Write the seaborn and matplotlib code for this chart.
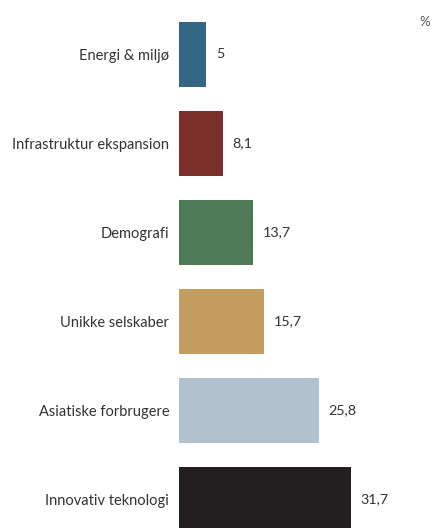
import matplotlib
matplotlib.use("Agg")
import matplotlib.pyplot as plt
import seaborn as sns
import pandas as pd

categories = ["Energi & miljø", "Infrastruktur ekspansion", "Demografi",
              "Unikke selskaber", "Asiatiske forbrugere", "Innovativ teknologi"]
values = [5.0, 8.1, 13.7, 15.7, 25.8, 31.7]
colors = ["#336682", "#7a2f2b", "#4e7a56", "#c39c60", "#b2c1ce", "#231f20"]

sns.set_theme(style="white")
plt.rcParams["font.family"] = ["Lato", "DejaVu Sans"]

df = pd.DataFrame({"kategori": categories, "andel": values})

fig = plt.figure(figsize=(4.36, 5.28), dpi=100)
ax = fig.add_axes([179 / 436, 0, 257 / 436, 1])

sns.barplot(data=df, y="kategori", x="andel", hue="kategori",
            palette=colors, orient="h", width=0.73, legend=False,
            saturation=1, linewidth=0, ax=ax)

ax.set_xlim(0, 257 / 5.426)
ax.set_ylim(5.32, -0.612)
ax.set_xlabel("")
ax.set_ylabel("")
ax.set_xticks([])
sns.despine(ax=ax, left=True, bottom=True)
ax.tick_params(axis="y", length=0, pad=7, labelsize=10.5, labelcolor="#333333")

for cont in ax.containers:
    ax.bar_label(cont, labels=[f"{v:.1f}".replace(".", ",").replace(",0", "")
                               for v in cont.datavalues],
                 padding=7, fontsize=10.3, color="#333333")

fig.text(419 / 436, 1 - 22 / 528, "%", ha="left", va="center",
         fontsize=9.5, color="#555555")

fig.savefig("out.png", dpi=100)
